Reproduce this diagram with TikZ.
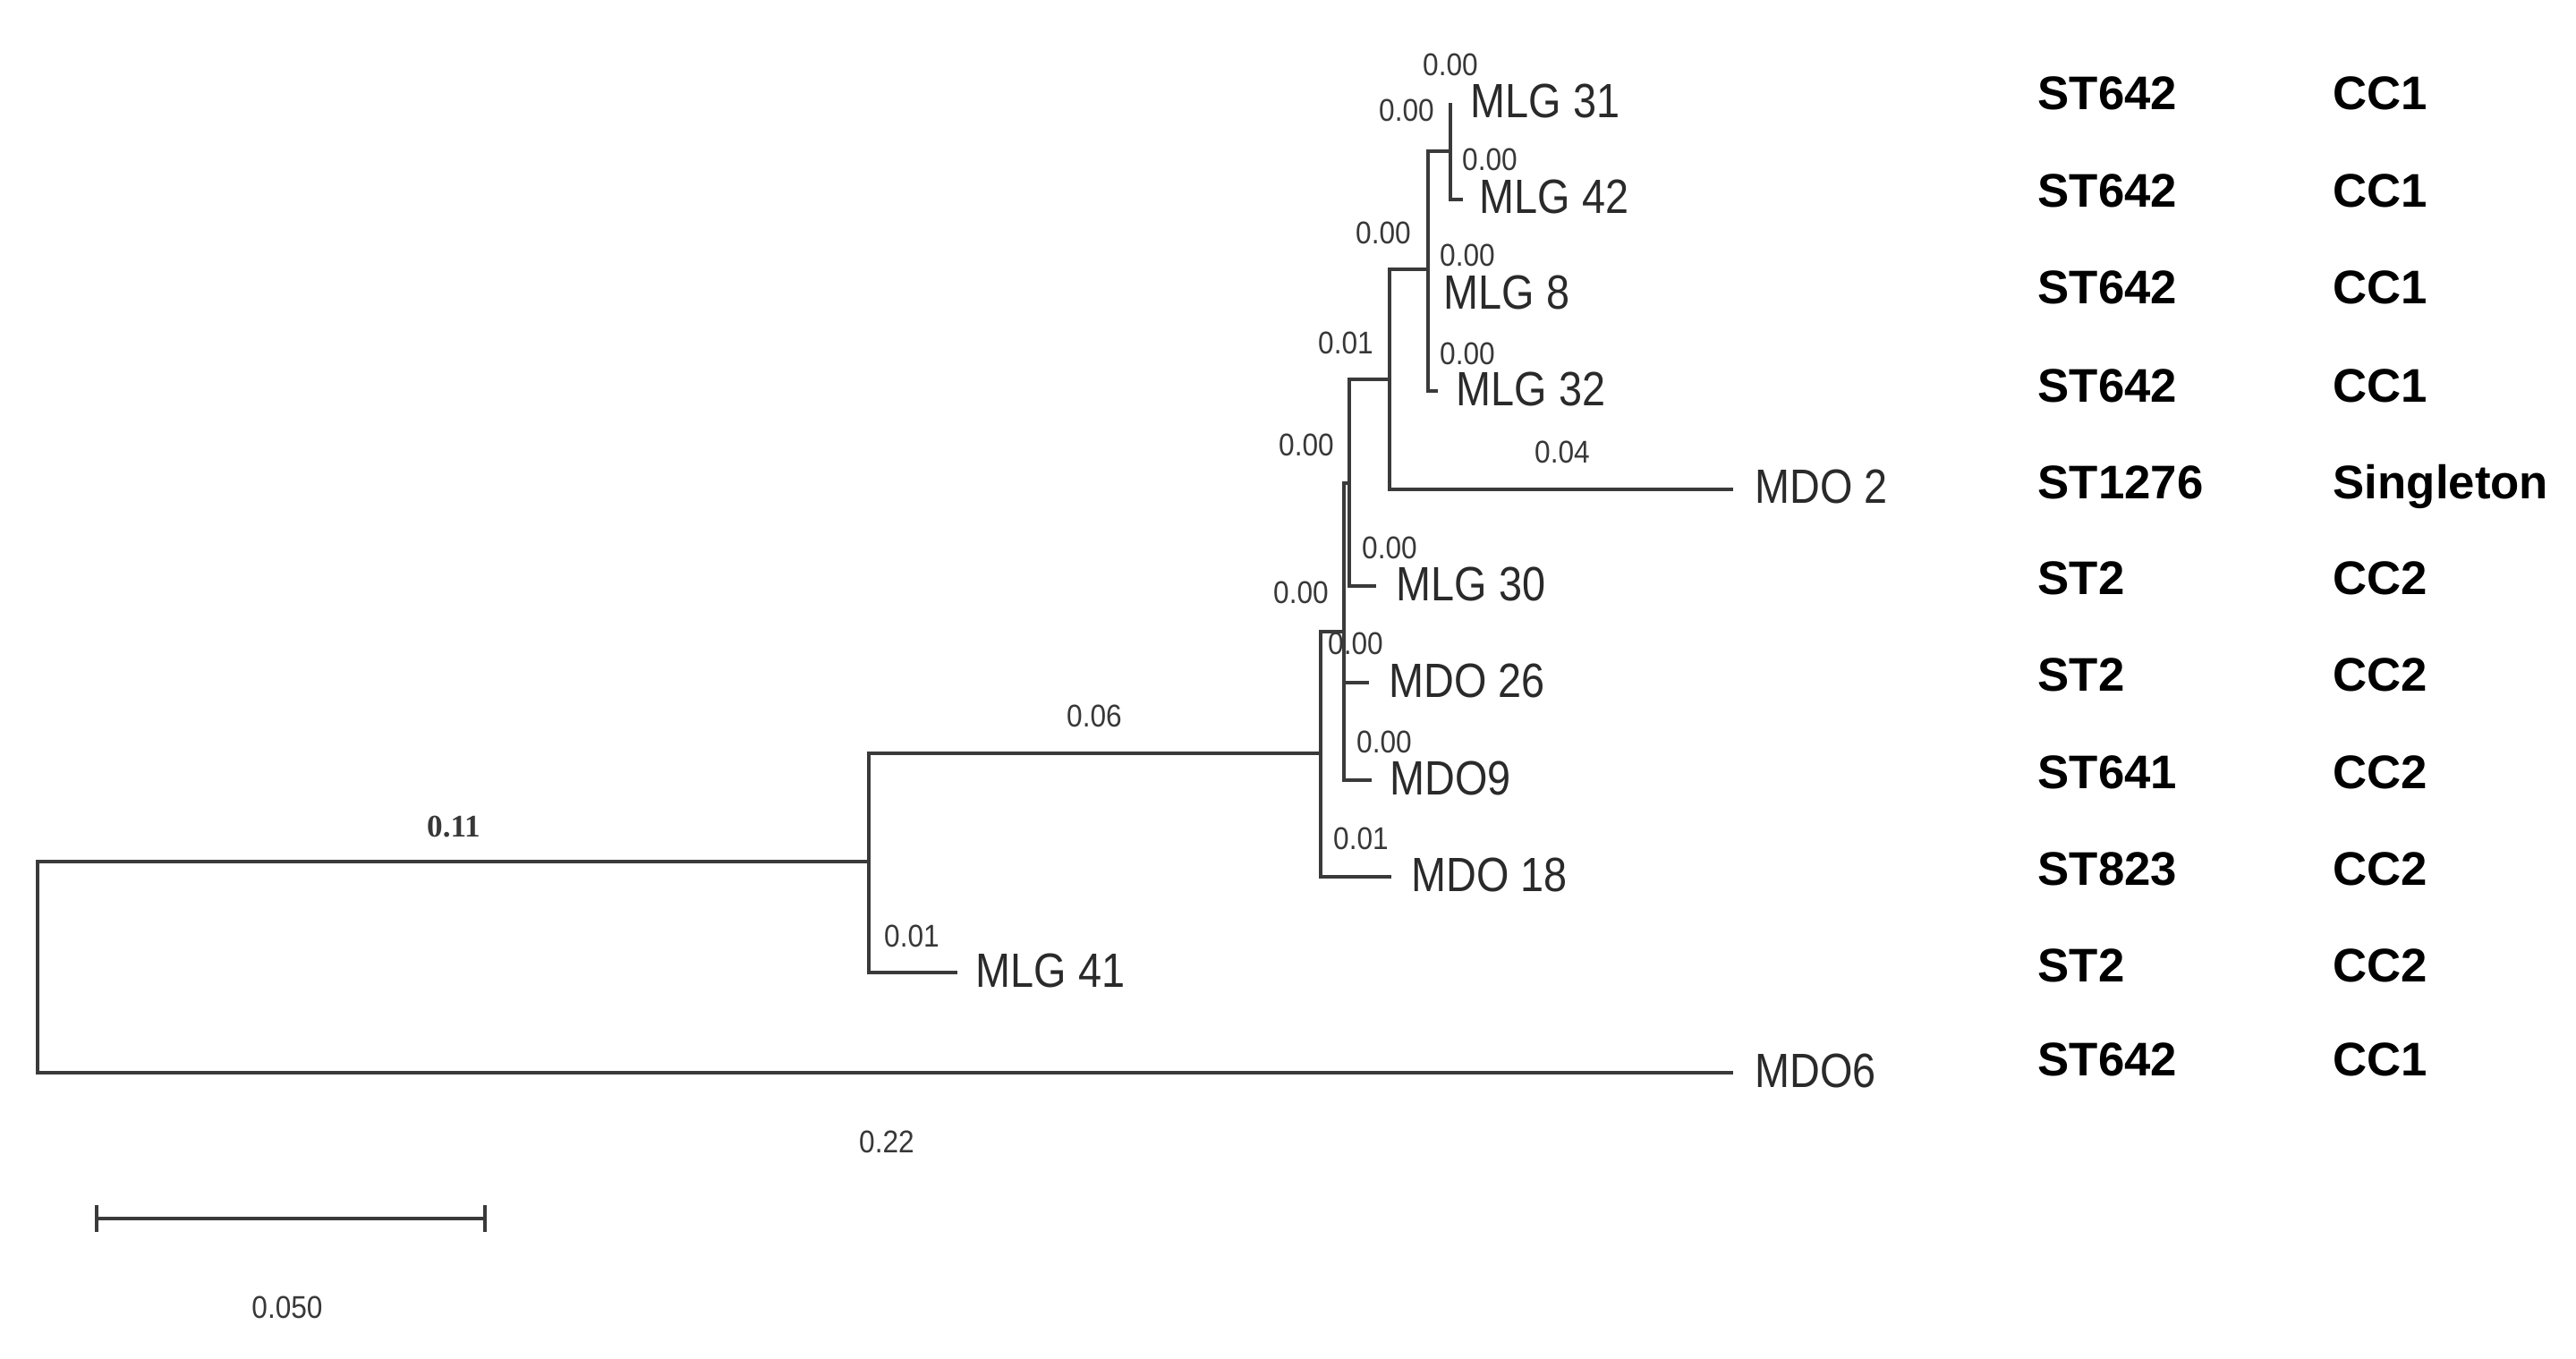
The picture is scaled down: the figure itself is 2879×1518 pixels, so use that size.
\documentclass[tikz,border=0pt]{standalone}
\usepackage{fontspec}
\setmainfont{Liberation Sans}
\newfontfamily\leaffont[FakeStretch=0.87]{Liberation Sans}
\newfontfamily\brfont[FakeStretch=0.9]{Liberation Sans}
\newfontfamily\serfont{Liberation Serif}
\definecolor{linec}{HTML}{3A3A3A}
\definecolor{txtc}{HTML}{2A2A2A}
\definecolor{brc}{HTML}{383838}
\begin{document}
\begin{tikzpicture}[x=0.01cm,y=-0.01cm,
  br/.style={draw=linec,line width=0.9pt},
  leaf/.style={anchor=west,inner sep=0pt,text=txtc,font=\leaffont\fontsize{15.3pt}{15pt}\selectfont,text height=0.72em,text depth=0pt},
  blab/.style={inner sep=0pt,text=brc,font=\brfont\fontsize{10pt}{10pt}\selectfont,text height=0.72em,text depth=0pt},
  colt/.style={anchor=west,inner sep=0pt,text=black,font=\bfseries\fontsize{15pt}{15pt}\selectfont,text height=0.72em,text depth=0pt}]
\useasboundingbox[fill=white] (0,0) rectangle (2879,1518);
% internal nodes
\coordinate (root) at (42,1081);
\coordinate (n1) at (971,963);
\coordinate (n2) at (1476,842);
\coordinate (n3) at (1502,706);
\coordinate (n4) at (1508,540);
\coordinate (n5) at (1553,424);
\coordinate (n6) at (1596,301);
\coordinate (n7) at (1621,169);
% leaf tips
\coordinate (t31) at (1621,115);
\coordinate (t42) at (1635,223);
\coordinate (t8) at (1596,330);
\coordinate (t32) at (1607,437);
\coordinate (tm2) at (1937,547);
\coordinate (t30) at (1538,655);
\coordinate (t26) at (1530,763);
\coordinate (t9) at (1533,872);
\coordinate (t18) at (1555,980);
\coordinate (t41) at (1070,1087);
\coordinate (t6) at (1937,1199);
% branches
\draw[br] (n1) -- (root |- n1) -- (root |- t6) -- (t6);
\draw[br] (n2) -- (n1 |- n2) |- (t41);
\draw[br] (n3) -- (n2 |- n3) |- (t18);
\draw[br] (n4) -- (n3 |- n4) |- (t9);
\draw[br] (n3 |- t26) -- (t26);
\draw[br] (n5) -- (n4 |- n5) |- (t30);
\draw[br] (n6) -- (n5 |- n6) |- (tm2);
\draw[br] (n7) -- (n6 |- n7) |- (t32);
\draw[br] (t31) |- (t42);
% leaf labels
\node[leaf] (l31) at (1643,119) {MLG 31};
\node[leaf] (l42) at (1653,226) {MLG 42};
\node[leaf] (l8) at (1613,333) {MLG 8};
\node[leaf] (l32) at (1627,441) {MLG 32};
\node[leaf] (lm2) at (1961,550) {MDO 2};
\node[leaf] (l30) at (1560,659) {MLG 30};
\node[leaf] (l26) at (1552,767) {MDO 26};
\node[leaf] (l9) at (1553,876) {MDO9};
\node[leaf] (l18) at (1577,984) {MDO 18};
\node[leaf] (l41) at (1090,1091) {MLG 41};
\node[leaf] (l6) at (1961,1203) {MDO6};
% branch length labels
\node[blab] (b31) at (1621,72) {0.00};
\node[blab] (b7) at (1572,123) {0.00};
\node[blab] (b42) at (1665,178) {0.00};
\node[blab] (b6) at (1546,260) {0.00};
\node[blab] (b8) at (1640,285) {0.00};
\node[blab] (b5) at (1504,383) {0.01};
\node[blab] (b32) at (1640,395) {0.00};
\node[blab] (bm2) at (1746,505) {0.04};
\node[blab] (b4) at (1460,497) {0.00};
\node[blab] (b30) at (1553,612) {0.00};
\node[blab] (b3) at (1454,662) {0.00};
\node[blab] (b26) at (1515,719) {0.00};
\node[blab] (b9) at (1547,829) {0.00};
\node[blab] (b18) at (1521,937) {0.01};
\node[blab] (b2) at (1223,800) {0.06};
\node[blab] (b41) at (1019,1046) {0.01};
\node[blab,font=\serfont\bfseries\fontsize{10pt}{10pt}\selectfont] (b1) at (507,923) {0.11};
\node[blab] (bm6) at (991,1276) {0.22};
% scale bar
\coordinate (sb1) at (108,1362);
\coordinate (sb2) at (542,1362);
\draw[br,line width=1.1pt] (sb1) -- (sb2);
\draw[br,line width=1.1pt] ([yshift=-4.3pt]sb1) -- ([yshift=4.3pt]sb1);
\draw[br,line width=1.1pt] ([yshift=-4.3pt]sb2) -- ([yshift=4.3pt]sb2);
\node[blab] (sbl) at (321,1461) {0.050};
% columns
\foreach \y/\st/\cc [count=\i] in {110/ST642/CC1,219/ST642/CC1,327/ST642/CC1,437/ST642/CC1,545/ST1276/Singleton,652/ST2/CC2,760/ST2/CC2,869/ST641/CC2,977/ST823/CC2,1085/ST2/CC2,1190/ST642/CC1}{
  \node[colt] (st\i) at (2277,\y) {\st};
  \node[colt] (cc\i) at (2607,\y) {\cc};
}
\end{tikzpicture}
\end{document}
